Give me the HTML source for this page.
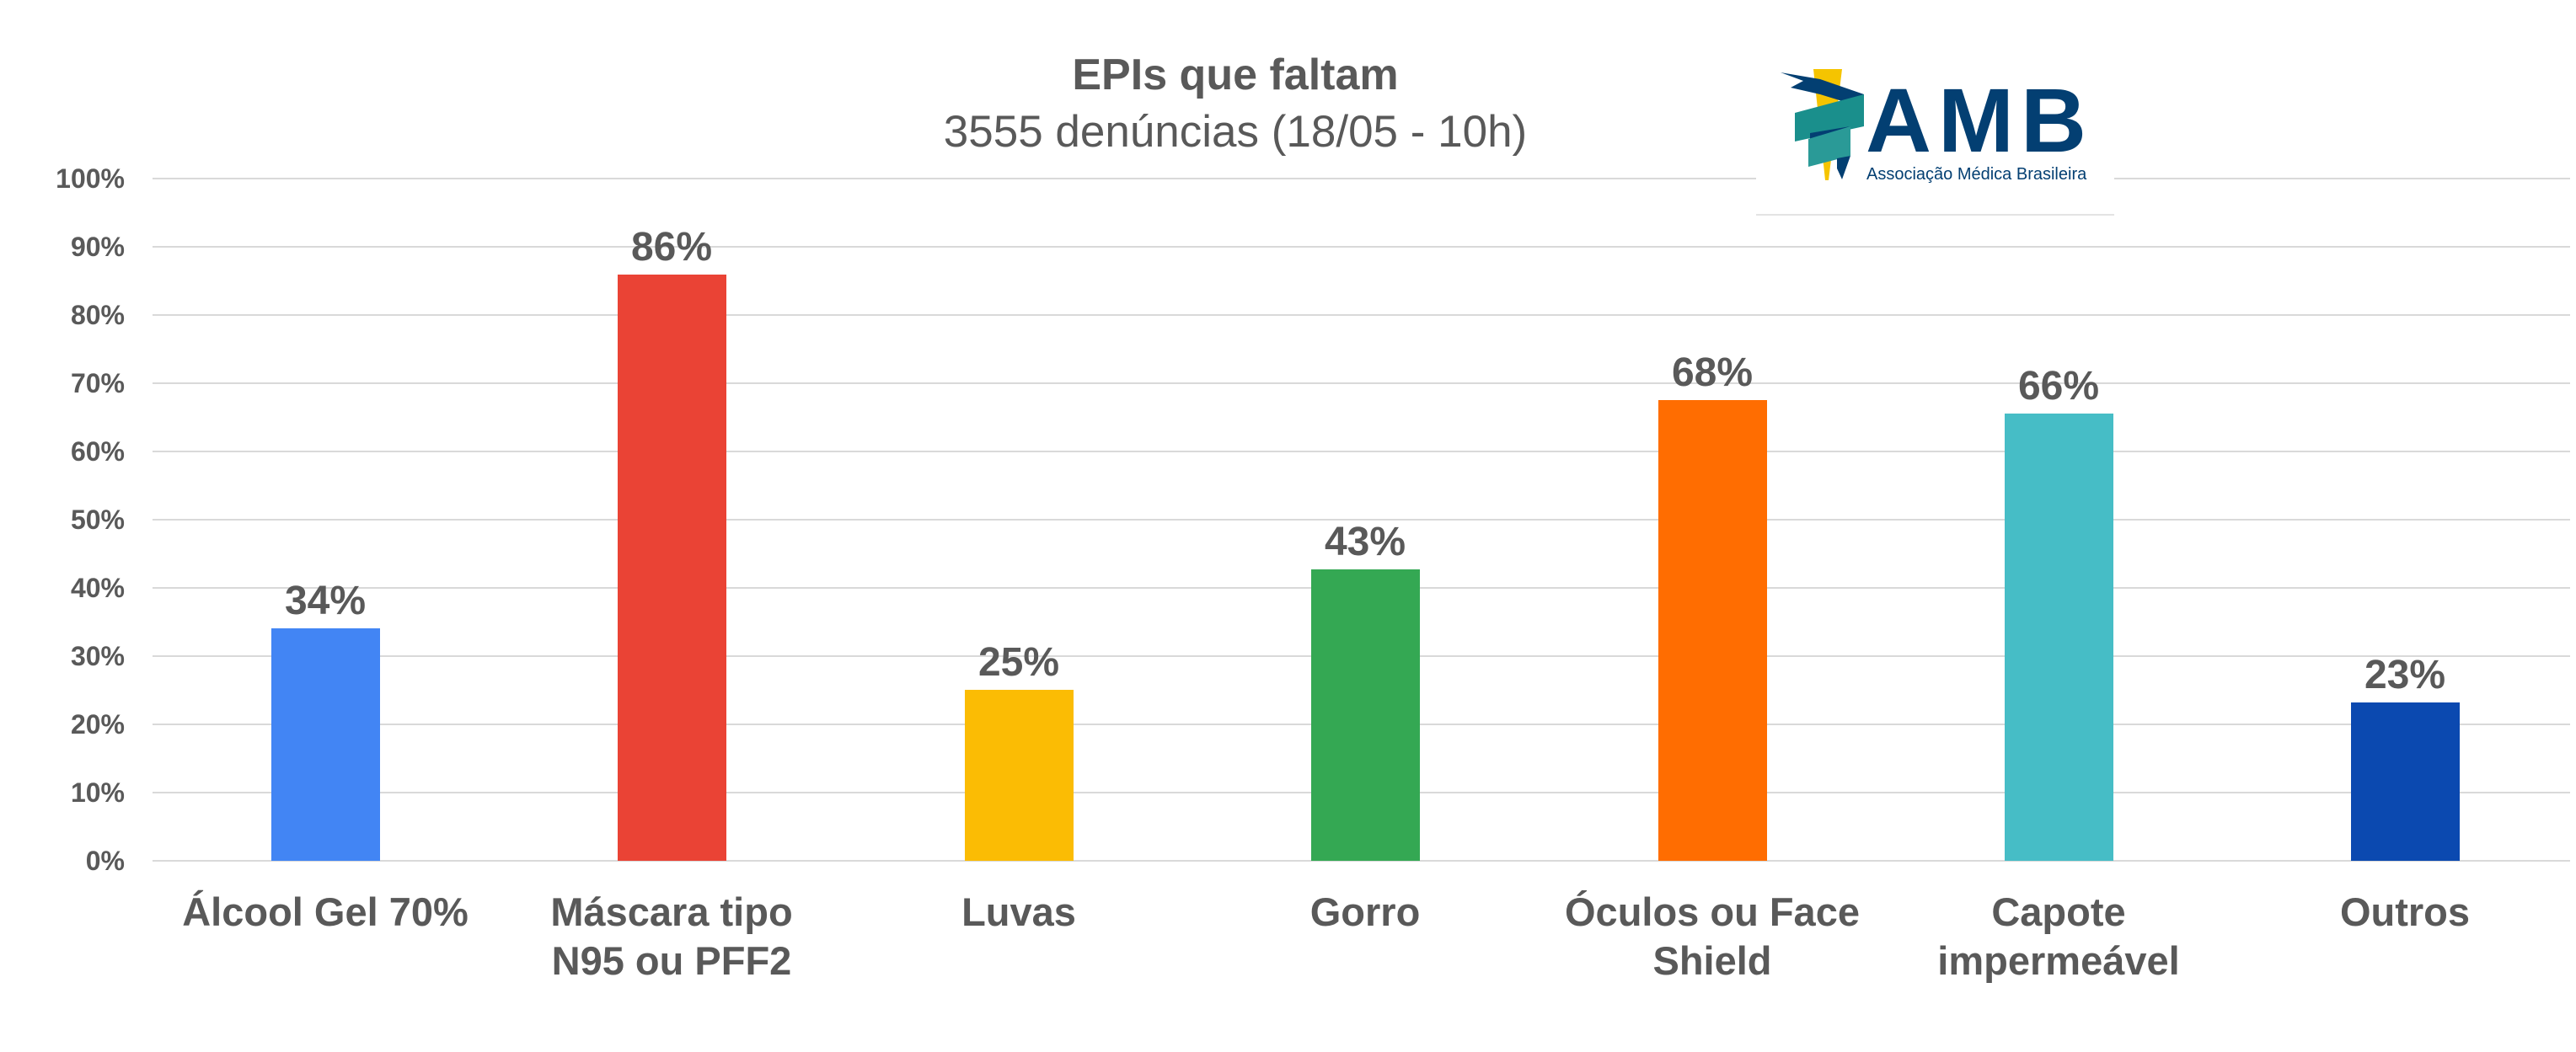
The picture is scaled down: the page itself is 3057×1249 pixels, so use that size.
<!DOCTYPE html>
<html><head><meta charset="utf-8"><style>
html,body{margin:0;padding:0;background:#fff;}
svg{display:block;}
text{font-family:"Liberation Sans",Arial,sans-serif;fill:#595959;}
</style></head><body>
<svg width="3057" height="1249" viewBox="0 0 3057 1249" xmlns="http://www.w3.org/2000/svg">
<rect width="3057" height="1249" fill="#fff"/>
<g stroke="#d9d9d9" stroke-width="2">
<line x1="181" x2="3050" y1="1022" y2="1022"/>
<line x1="181" x2="3050" y1="941" y2="941"/>
<line x1="181" x2="3050" y1="860" y2="860"/>
<line x1="181" x2="3050" y1="779" y2="779"/>
<line x1="181" x2="3050" y1="698" y2="698"/>
<line x1="181" x2="3050" y1="617" y2="617"/>
<line x1="181" x2="3050" y1="536" y2="536"/>
<line x1="181" x2="3050" y1="455" y2="455"/>
<line x1="181" x2="3050" y1="374" y2="374"/>
<line x1="181" x2="3050" y1="293" y2="293"/>
<line x1="181" x2="3050" y1="212" y2="212"/>
</g>
<g font-size="32" font-weight="bold" text-anchor="end">
<text x="148" y="1033">0%</text>
<text x="148" y="952">10%</text>
<text x="148" y="871">20%</text>
<text x="148" y="790">30%</text>
<text x="148" y="709">40%</text>
<text x="148" y="628">50%</text>
<text x="148" y="547">60%</text>
<text x="148" y="466">70%</text>
<text x="148" y="385">80%</text>
<text x="148" y="304">90%</text>
<text x="148" y="223">100%</text>
</g>
<!-- logo box -->
<rect x="2084" y="150" width="425" height="104" fill="#fff"/>
<line x1="2084" x2="2509" y1="255" y2="255" stroke="#e3e3e3" stroke-width="2"/>
<g>
<polygon points="2152,82 2186,82 2170,214 2166,214" fill="#f5c400"/>
<polygon points="2113,86 2160,94 2212,112 2212,128 2160,112 2125,104 2140,96" fill="#033f72"/>
<polygon points="2130,134 2212,112 2212,150 2130,168" fill="#1a8f8c"/>
<polygon points="2148,158 2196,150 2196,168 2148,178" fill="#033f72"/>
<polygon points="2146,165 2196,150 2196,185 2146,198" fill="#2a9a97"/>
<polygon points="2180,188 2196,185 2186,213 2180,200" fill="#033f72"/>
</g>
<text x="2214" y="180" font-size="108" font-weight="bold" letter-spacing="8" style="fill:#033f72">AMB</text>
<text x="2215" y="213" font-size="20" style="fill:#033f72">Associação Médica Brasileira</text>
<!-- title -->
<text x="1466" y="106" font-size="52" font-weight="bold" text-anchor="middle">EPIs que faltam</text>
<text x="1466" y="174" font-size="53" text-anchor="middle">3555 denúncias (18/05 - 10h)</text>
<!-- bars -->
<rect x="322" y="746" width="129" height="276" fill="#4285f4"/>
<rect x="733" y="326" width="129" height="696" fill="#ea4335"/>
<rect x="1145" y="819" width="129" height="203" fill="#fbbc04"/>
<rect x="1556" y="676" width="129" height="346" fill="#34a853"/>
<rect x="1968" y="475" width="129" height="547" fill="#ff6d01"/>
<rect x="2379" y="491" width="129" height="531" fill="#46bdc6"/>
<rect x="2790" y="834" width="129" height="188" fill="#0b49b0"/>
<g font-size="48" font-weight="bold" text-anchor="middle">
<text x="386" y="729">34%</text>
<text x="797" y="309">86%</text>
<text x="1209" y="802">25%</text>
<text x="1620" y="659">43%</text>
<text x="2032" y="458">68%</text>
<text x="2443" y="474">66%</text>
<text x="2854" y="817">23%</text>
</g>
<g font-size="47" font-weight="bold" text-anchor="middle">
<text x="386" y="1099">Álcool Gel 70%</text>
<text x="797" y="1099">Máscara tipo</text>
<text x="797" y="1157">N95 ou PFF2</text>
<text x="1209" y="1099">Luvas</text>
<text x="1620" y="1099">Gorro</text>
<text x="2032" y="1099">Óculos ou Face</text>
<text x="2032" y="1157">Shield</text>
<text x="2443" y="1099">Capote</text>
<text x="2443" y="1157">impermeável</text>
<text x="2854" y="1099">Outros</text>
</g>
</svg>
</body></html>
